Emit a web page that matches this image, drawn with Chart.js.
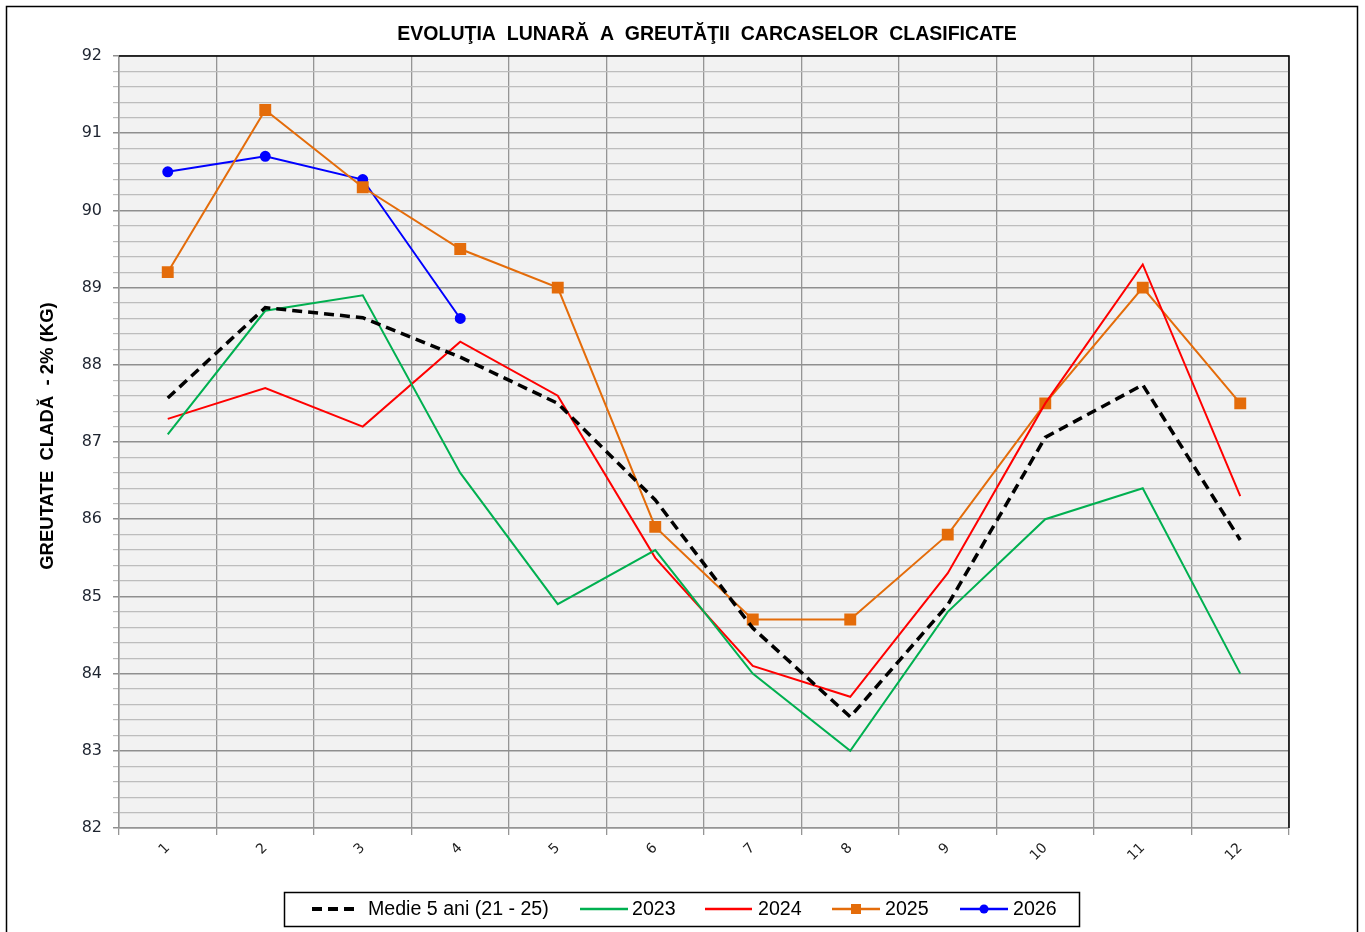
<!DOCTYPE html>
<html>
<head>
<meta charset="utf-8">
<script src="https://cdn.jsdelivr.net/npm/chart.js@4/dist/chart.umd.min.js"></script>
<style>
  html, body { margin: 0; padding: 0; background: #fff; }
  canvas { display: block; }
</style>
</head>
<body>
<canvas id="chart" width="1365" height="932"></canvas>
<script>
// date
const luni = ['1', '2', '3', '4', '5', '6', '7', '8', '9', '10', '11', '12'];
const medie5ani = [87.57, 88.74, 88.61, 88.1, 87.5, 86.25, 84.59, 83.44, 84.89, 87.06, 87.74, 85.73];
const an2023 = [87.1, 88.7, 88.9, 86.6, 84.9, 85.6, 84.0, 83.0, 84.8, 86.0, 86.4, 84.0];
const an2024 = [87.3, 87.7, 87.2, 88.3, 87.6, 85.5, 84.1, 83.7, 85.3, 87.5, 89.3, 86.3];
const an2025 = [89.2, 91.3, 90.3, 89.5, 89.0, 85.9, 84.7, 84.7, 85.8, 87.5, 89.0, 87.5];
const an2026 = [90.5, 90.7, 90.4, 88.6, null, null, null, null, null, null, null, null];

const titlu = 'EVOLUŢIA  LUNARĂ  A  GREUTĂŢII  CARCASELOR  CLASIFICATE';
const titluY = 'GREUTATE  CLADĂ  - 2% (KG)';
const FONT = "'Liberation Sans', Arial, sans-serif";
const FONT_AX = "'DejaVu Sans', Verdana, sans-serif";

// fundal, rama, titluri si legenda desenate de mana
const decor = {
  id: 'decor',
  beforeDraw(chart) {
    const ctx = chart.ctx;
    const a = chart.chartArea;
    ctx.save();
    ctx.fillStyle = '#fff';
    ctx.fillRect(0, 0, chart.width, chart.height);
    ctx.strokeStyle = '#000';
    ctx.lineWidth = 1.5;
    ctx.strokeRect(6.5, 6.5, 1351, 940);
    ctx.fillStyle = '#f2f2f2';
    ctx.fillRect(a.left, a.top, a.right - a.left, a.bottom - a.top);
    ctx.restore();
  },
  afterDraw(chart) {
    const ctx = chart.ctx;
    const a = chart.chartArea;
    ctx.save();
    // margine sus / dreapta
    ctx.strokeStyle = '#000';
    ctx.lineWidth = 1.5;
    ctx.beginPath();
    ctx.moveTo(a.left, a.top);
    ctx.lineTo(a.right, a.top);
    ctx.lineTo(a.right, a.bottom);
    ctx.stroke();

    // titlu
    ctx.fillStyle = '#000';
    ctx.font = 'bold 19.5px ' + FONT;
    ctx.textAlign = 'center';
    ctx.textBaseline = 'middle';
    ctx.fillText(titlu, 707, 35);

    // titlu axa Y
    ctx.save();
    ctx.translate(48, 436);
    ctx.rotate(-Math.PI / 2);
    ctx.font = 'bold 18.5px ' + FONT;
    ctx.fillText(titluY, 0, 0);
    ctx.restore();

    // legenda
    ctx.lineWidth = 1.5;
    ctx.strokeStyle = '#000';
    ctx.strokeRect(284.5, 892.5, 795, 34);
    const y = 909;
    const items = [
      { ds: 0, x1: 312, x2: 360, tx: 368 },
      { ds: 1, x1: 580, x2: 628, tx: 632 },
      { ds: 2, x1: 705, x2: 752, tx: 758 },
      { ds: 3, x1: 832, x2: 880, tx: 885 },
      { ds: 4, x1: 960, x2: 1008, tx: 1013 }
    ];
    ctx.font = '19.6px ' + FONT;
    ctx.textAlign = 'left';
    items.forEach(it => {
      const d = chart.data.datasets[it.ds];
      ctx.save();
      ctx.strokeStyle = d.borderColor;
      ctx.lineWidth = d.borderWidth + 0.5;
      ctx.setLineDash(d.borderDash || []);
      ctx.beginPath();
      ctx.moveTo(it.x1, y);
      ctx.lineTo(it.x2, y);
      ctx.stroke();
      ctx.restore();
      const mx = (it.x1 + it.x2) / 2;
      ctx.fillStyle = d.borderColor;
      if (d.pointStyle === 'rect') {
        ctx.fillRect(mx - 5, y - 5, 10, 10);
      } else if (d.pointRadius > 0) {
        ctx.beginPath();
        ctx.arc(mx, y, 4.5, 0, Math.PI * 2);
        ctx.fill();
      }
      ctx.fillStyle = '#000';
      ctx.fillText(d.label, it.tx, y + 1);
    });
    ctx.restore();
  }
};

new Chart(document.getElementById('chart'), {
  type: 'line',
  data: {
    labels: luni,
    datasets: [
      { label: 'Medie 5 ani (21 - 25)', data: medie5ani, borderColor: '#000', borderWidth: 3.5, borderDash: [10, 6], pointRadius: 0 },
      { label: '2023', data: an2023, borderColor: '#00b050', borderWidth: 2, pointRadius: 0 },
      { label: '2024', data: an2024, borderColor: '#ff0000', borderWidth: 2, pointRadius: 0 },
      { label: '2025', data: an2025, borderColor: '#e46c0a', backgroundColor: '#e46c0a', borderWidth: 2, pointStyle: 'rect', pointRadius: 7 },
      { label: '2026', data: an2026, borderColor: '#0000ff', backgroundColor: '#0000ff', borderWidth: 2, pointStyle: 'circle', pointRadius: 4.5 }
    ]
  },
  options: {
    responsive: false,
    animation: false,
    devicePixelRatio: 1,
    layout: { padding: { left: 30, right: 76, top: 56, bottom: 44 } },
    plugins: {
      legend: { display: false },
      title: { display: false },
      tooltip: { enabled: false }
    },
    elements: { line: { tension: 0 } },
    scales: {
      x: {
        offset: true,
        afterFit: s => { s.height = 60; },
        grid: { offset: true, color: '#959595', lineWidth: 1.3, tickLength: 7, tickColor: '#959595' },
        border: { color: '#959595', width: 1.5 },
        ticks: {
          minRotation: 45, maxRotation: 45, color: '#222', padding: 5,
          font: { family: FONT_AX, size: 14 }
        }
      },
      y: {
        min: 82,
        max: 92,
        afterFit: s => { s.width = 89; },
        grid: {
          color: c => (Math.abs(c.tick.value - Math.round(c.tick.value)) < 1e-6 ? '#8f8f8f' : '#bdbdbd'),
          lineWidth: c => (Math.abs(c.tick.value - Math.round(c.tick.value)) < 1e-6 ? 1.5 : 1.2),
          tickLength: 6
        },
        border: { color: '#959595', width: 1.5 },
        ticks: {
          stepSize: 0.2,
          autoSkip: false,
          color: '#1e2430',
          padding: 11,
          font: { family: FONT_AX, size: 16 },
          callback: v => (Math.abs(v - Math.round(v)) < 1e-6 ? String(Math.round(v)) : '')
        }
      }
    }
  },
  plugins: [decor]
});
</script>
</body>
</html>
